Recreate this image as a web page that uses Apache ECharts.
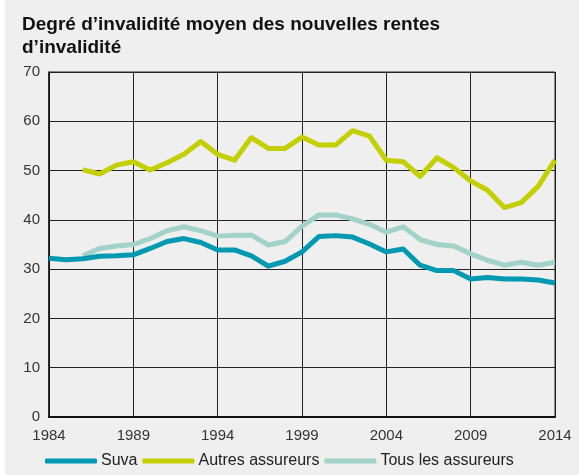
<!DOCTYPE html>
<html>
<head>
<meta charset="utf-8">
<script src="https://cdn.jsdelivr.net/npm/echarts@6/dist/echarts.min.js"></script>
<style>
html,body{margin:0;padding:0;background:#fff;}
#c{width:579px;height:475px;}
</style>
</head>
<body>
<div id="c"></div>
<script>
const years = [];
for (let y = 1984; y <= 2014; y++) years.push(String(y));

const suva = [32.2, 31.9, 32.1, 32.6, 32.7, 32.9, 34.2, 35.6, 36.2, 35.4, 33.9, 33.9, 32.7, 30.6, 31.6, 33.5,
  36.6, 36.8, 36.5, 35.1, 33.5, 34.1, 30.8, 29.7, 29.7, 28.0, 28.3, 28.0, 28.0, 27.8, 27.2];
const autres = [null, null, 50.2, 49.3, 51.1, 51.8, 50.1, 51.6, 53.3, 55.9, 53.3, 52.1, 56.7, 54.5, 54.5, 56.8,
  55.2, 55.2, 58.1, 57.0, 52.1, 51.8, 48.8, 52.6, 50.6, 47.9, 46.0, 42.5, 43.5, 46.8, 52.1];
const tous = [null, null, 32.7, 34.2, 34.7, 35.0, 36.2, 37.8, 38.6, 37.8, 36.7, 36.9, 36.9, 34.9, 35.6, 38.7,
  41.0, 41.0, 40.2, 39.1, 37.5, 38.6, 36.0, 35.0, 34.7, 33.1, 31.8, 30.8, 31.4, 30.8, 31.4];

const seriesNames = ['Suva', 'Autres assureurs', 'Tous les assureurs'];
const colors = ['#0099b1', '#c3cf00', '#a2d2c8'];
const titleText = 'Degré d\u2019invalidité moyen des nouvelles rentes\nd\u2019invalidité';

const font = '"Liberation Sans", Arial, Helvetica, sans-serif';
const chart = echarts.init(document.getElementById('c'), null, {renderer: 'canvas'});
chart.setOption({
  backgroundColor: '#efefef',
  animation: false,
  graphic: [{type: 'rect', left: 0, top: 0, shape: {width: 5, height: 475}, style: {fill: '#ffffff'}}],
  title: {
    text: titleText, left: 17, top: 8,
    textStyle: {fontFamily: font, fontSize: 19, fontWeight: 'bold', color: '#111', lineHeight: 23}
  },
  legend: {
    bottom: 1, left: 40, itemWidth: 52, itemHeight: 5, itemGap: 5, icon: 'roundRect',
    textStyle: {fontFamily: font, fontSize: 16, color: '#222', padding: [0, 0, 0, -1]},
    data: seriesNames
  },
  grid: {left: 49, right: 24, top: 72, bottom: 58, show: true, borderColor: '#222', borderWidth: 1, backgroundColor: 'transparent'},
  xAxis: {
    type: 'category', data: years, boundaryGap: false,
    axisLine: {lineStyle: {color: '#111', width: 2}},
    axisTick: {show: false},
    axisLabel: {interval: 4, fontFamily: font, fontSize: 15, color: '#333', margin: 11},
    splitLine: {show: true, interval: 4, lineStyle: {color: '#222', width: 1}}
  },
  yAxis: {
    type: 'value', min: 0, max: 70, interval: 10,
    axisLine: {show: true, lineStyle: {color: '#111', width: 1.5}},
    axisTick: {show: false},
    axisLabel: {fontFamily: font, fontSize: 15, color: '#333', margin: 9},
    splitLine: {lineStyle: {color: '#222', width: 1}}
  },
  series: [
    {name: seriesNames[0], type: 'line', data: suva, showSymbol: false, symbol: 'none', color: colors[0], lineStyle: {width: 5, color: colors[0], join: 'round'}, z: 4},
    {name: seriesNames[1], type: 'line', data: autres, showSymbol: false, symbol: 'none', color: colors[1], lineStyle: {width: 5, color: colors[1], join: 'round'}, z: 3},
    {name: seriesNames[2], type: 'line', data: tous, showSymbol: false, symbol: 'none', color: colors[2], lineStyle: {width: 5, color: colors[2], join: 'round'}, z: 2}
  ]
});
</script>
</body>
</html>
